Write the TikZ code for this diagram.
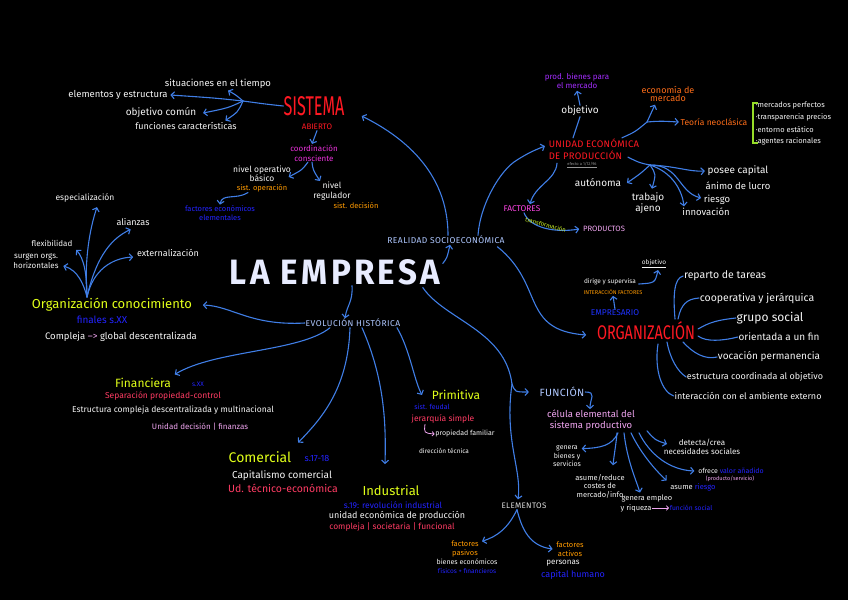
\documentclass[tikz,border=0pt]{standalone}
\usepackage{fontspec}
\setmainfont{Fira Sans}
\usepackage{graphicx}
\usetikzlibrary{arrows.meta}
\definecolor{conn}{RGB}{64,126,230}
\definecolor{twhite}{RGB}{245,245,245}
\definecolor{temp}{RGB}{232,236,255}
\definecolor{tred}{RGB}{255,25,35}
\definecolor{tmag}{RGB}{235,50,220}
\definecolor{tmag2}{RGB}{255,70,230}
\definecolor{tora}{RGB}{255,155,0}
\definecolor{torr}{RGB}{255,110,25}
\definecolor{tblue}{RGB}{35,35,255}
\definecolor{tblue2}{RGB}{30,50,255}
\definecolor{tyel}{RGB}{225,255,25}
\definecolor{tpr}{RGB}{255,60,100}
\definecolor{tlpk}{RGB}{240,165,240}
\definecolor{tlbl}{RGB}{175,200,255}
\definecolor{tpur}{RGB}{165,45,255}
\definecolor{tgrn}{RGB}{150,220,40}
\definecolor{tgrn2}{RGB}{205,245,40}
\definecolor{tgry}{RGB}{150,150,150}
\definecolor{twg}{RGB}{220,220,220}
\newcommand\F[2]{\fontsize{#1}{#2}\selectfont}
\begin{document}
\begin{tikzpicture}[x=1pt,y=-1pt,
  every node/.style={inner sep=0.6pt, align=center, text=twhite},
  arr/.style={draw=conn, line width=1.1pt, line cap=round, -{Straight Barb[length=3.2pt,width=7pt]}},
  ln/.style={draw=conn, line width=1.1pt, line cap=round},
  pk/.style={draw=tlpk, line width=0.8pt, -{Straight Barb[length=2pt,width=4.5pt]}}]
\path[use as bounding box, fill=black] (0,0) rectangle (848,600);

% ---------- SISTEMA ----------
\node[text=tred,inner sep=0pt] (sis) at (314,106) {\resizebox{61pt}{19pt}{SISTEMA}};
\node[text=tred,font=\F{8}{9}] (abi) at (317,127) {ABIERTO};
\node[font=\F{9.5}{11}] (sit) at (218,84) {situaciones en el tiempo};
\node[font=\F{9.5}{11}] (ele) at (118,95) {elementos y estructura};
\node[font=\F{10}{11}] (obj) at (161,113) {objetivo común};
\node[font=\F{9}{11}] (fun) at (186,126) {funciones características};
\coordinate (hs) at (243,101);
\node[text=tmag,font=\F{8}{10}] (coo) at (314,153) {coordinación\\consciente};
\node[font=\F{8.5}{9}] (nop) at (262,174) {nivel operativo\\básico};
\node[text=tora,font=\F{7.5}{9}] (sop) at (262,188) {sist. operación};
\node[font=\F{8.5}{10}] (nre) at (332,191) {nivel\\regulador};
\node[text=tora,font=\F{7.5}{9}] (sde) at (356,206) {sist. decisión};
\node[text=tblue,font=\F{7.5}{9}] (fee) at (220,213) {factores económicos\\elementales};

\draw[ln] (sis.west) .. controls (265,104) .. (hs);
\draw[arr] (hs) .. controls (215,98) .. ([xshift=2pt]ele.east);
\draw[arr] (hs) .. controls (236,95) .. ([xshift=10pt,yshift=-1pt]sit.south);
\draw[arr] (hs) .. controls (228,108) .. ([xshift=6pt]obj.east);
\draw[arr] (hs) .. controls (238,112) .. ([xshift=-12pt,yshift=1pt]fun.north east);
\draw[arr] (abi.south) -- ([xshift=-2pt]coo.north);
\draw[arr] ([xshift=-6pt]coo.south) .. controls (302,170) .. ([xshift=-3pt,yshift=-3pt]nop.east);
\draw[arr] ([xshift=-2pt]coo.south) .. controls (313,170) .. ([xshift=-12pt]nre.north);
\draw[arr] ([xshift=-14pt]sop.south) .. controls (236,200) and (222,193) .. (fee.north);

% ---------- CENTRE ----------
\node[text=temp] (emp) at (335,272) {\resizebox{210pt}{25pt}{\bfseries\addfontfeature{LetterSpace=10}LA EMPRESA}};
\node[text=tlbl,font=\F{8.5}{10}\addfontfeature{LetterSpace=5}] (rea) at (446,240) {REALIDAD SOCIOECONÓMICA};
\node[text=tlbl,font=\F{8.5}{10}\addfontfeature{LetterSpace=6}] (evo) at (353,323) {EVOLUCIÓN HISTÓRICA};
\draw[arr] ([xshift=2pt,yshift=-5pt]emp.north east) .. controls (447,258) .. ([xshift=4pt]rea.south);
\draw[arr] ([xshift=17pt]emp.south) .. controls (353,302) and (347,305) .. ([xshift=-8pt]evo.north);
\draw[arr] ([xshift=2pt]rea.north) .. controls (448,170) and (400,135) .. ([xshift=17pt,yshift=-10pt]sis.east);

% ---------- ORGANIZACION CONOCIMIENTO ----------
\node[text=tyel,font=\F{13}{15}] (orc) at (112,305) {Organización conocimiento};
\node[text=tblue,font=\F{10}{11}] (osx) at (102,320) {finales s.XX};
\node[font=\F{9.5}{11}] (ocg) at (121,337) {Compleja \textcolor{tlpk}{--{}>} global descentralizada};
\node[font=\F{8.5}{10}] (esp) at (85,198) {especialización};
\node[font=\F{9}{10}] (ali) at (133,222) {alianzas};
\node[font=\F{8}{10}] (fle) at (52,243) {flexibilidad};
\node[font=\F{9}{10}] (ext) at (168,253) {externalización};
\node[font=\F{8}{10}] (sur) at (36,261) {surgen orgs.\\horizontales};
\coordinate (ho) at (87,297);
\draw[arr] (ho) .. controls (84,260) and (90,228) .. ([xshift=12pt,yshift=-4pt]esp.south);
\draw[arr] (ho) .. controls (95,262) and (108,240) .. ([xshift=15pt,yshift=-3pt]ali.south west);
\draw[arr] (ho) .. controls (87,275) and (84,258) .. ([xshift=3pt,yshift=-3pt]fle.south east);
\draw[arr] (ho) .. controls (93,270) and (112,258) .. ([xshift=-3pt,yshift=-4pt]ext.west);
\draw[arr] (ho) .. controls (84,285) and (78,270) .. ([xshift=4pt,yshift=-5pt]sur.east);
\draw[arr] (evo.west) .. controls (250,326) and (232,306) .. ([xshift=10pt]orc.east);

% ---------- UNIDAD ECONOMICA ----------
\node[text=tred,font=\F{9.5}{12}\addfontfeature{LetterSpace=3},align=left,anchor=west] (uni) at (548,149) {UNIDAD ECONÓMICA\\DE PRODUCCIÓN};
\node[text=tgry,font=\F{4}{5}] (und) at (582,165) {\underline{efecto a 1/12/96}};
\node[font=\F{10}{11}] (objv) at (580,111) {objetivo};
\node[text=tpur,font=\F{8}{9.5}] (prd) at (577,81) {prod. bienes para\\el mercado};
\draw[ln] ([xshift=25pt]uni.north west) .. controls (576,128) .. (objv.south);
\draw[arr] (objv.north) -- ([yshift=-1pt]prd.south);
\coordinate (hu) at (647,122);
\node[text=torr,font=\F{9}{8.5}] (eco) at (668,94) {economía de\\mercado};
\node[text=torr,font=\F{8.5}{10}] (teo) at (714,122) {Teoría neoclásica};
\draw[ln] ([xshift=-18pt]uni.north east) .. controls (635,132) .. (hu);
\draw[arr] (hu) .. controls (651,113) .. ([xshift=-13pt,yshift=-2pt]eco.south);
\draw[arr] (hu) .. controls (660,121) .. ([xshift=-1pt]teo.west);
\draw[tgrn, line width=1.2pt] (758,103) -- (753,103) -- (753,143) -- (758,143);
\node[font=\F{7.5}{9},anchor=west] (b1) at (755,105) {·mercados perfectos};
\node[font=\F{7.5}{9},anchor=west] (b2) at (755,117) {·transparencia precios};
\node[font=\F{7.5}{9},anchor=west] (b3) at (755,130) {·entorno estático};
\node[font=\F{7.5}{9},anchor=west] (b4) at (755,141) {·agentes racionales};

\coordinate (hp) at (650,165);
\draw[ln] ([xshift=-12pt,yshift=3pt]uni.south east) .. controls (640,163) .. (hp);
\node[font=\F{10}{11}] (aut) at (598,183) {autónoma};
\node[font=\F{10}{11}] (tra) at (648,203) {trabajo\\ajeno};
\node[font=\F{10}{11}] (pos) at (738,171) {posee capital};
\node[font=\F{9.5}{11}] (ani) at (738,186) {ánimo de lucro};
\node[font=\F{9.5}{11}] (rie) at (717,200) {riesgo};
\node[font=\F{9.5}{11}] (inn) at (706,212) {innovación};
\draw[arr] (hp) .. controls (640,174) .. ([xshift=5pt]aut.east);
\draw[arr] (hp) .. controls (656,174) .. ([xshift=4pt,yshift=3pt]tra.north);
\draw[arr] (hp) .. controls (675,166) and (690,172) .. ([xshift=-2pt]pos.west);
\draw[arr] (hp) .. controls (680,165) and (678,192) .. ([xshift=-2pt,yshift=2pt]rie.west);
\draw[arr] (hp) .. controls (672,172) and (682,190) .. ([xshift=-22pt,yshift=1pt]inn.north);

\node[text=tmag2,font=\F{8.3}{10}] (fac) at (522,209) {FACTORES};
\node[text=tlpk,font=\F{7.7}{9}] (pro) at (604,229) {PRODUCTOS};
\draw[arr] ([xshift=9pt,yshift=-3pt]uni.south west) .. controls (556,180) and (535,185) .. ([xshift=8pt,yshift=1pt]fac.north);
\draw[arr] ([xshift=2pt]fac.south) .. controls (530,228) and (555,233) .. ([xshift=-3pt]pro.west) node[pos=0.5,sloped,above=0pt,text=tgrn2,font=\F{6}{7}] (tfm) {transformación};
\draw[arr] ([xshift=32pt]rea.north) .. controls (480,205) and (500,170) .. (517,160) .. controls (528,153) and (535,150) .. ([xshift=-3pt,yshift=3pt]uni.west);

% ---------- ORGANIZACION ----------
\node[text=tred] (org) at (646,331) {\resizebox{98pt}{18pt}{ORGANIZACIÓN}};
\node[text=tblue2,font=\F{8.4}{10}] (emr) at (615,313) {EMPRESARIO};
\node[text=tora,font=\F{5.5}{7}] (inf) at (613,292) {INTERACCIÓN FACTORES};
\node[font=\F{6.5}{8}] (dir) at (610,282) {dirige y supervisa};
\node[font=\F{6.5}{8}] (obo) at (654,264) {\underline{objetivo}};
\draw[arr] (emr.north) -- ([yshift=-0.5pt]inf.south);
\draw[arr] ([xshift=2pt,yshift=-2pt]dir.east) .. controls (655,283) .. ([xshift=4pt,yshift=-1pt]obo.south);
\node[font=\F{10.5}{12}] (rep) at (725,276) {reparto de tareas};
\node[font=\F{10.5}{12}] (coop) at (757,298) {cooperativa y jerárquica};
\node[font=\F{12}{13}] (gru) at (770,318) {grupo social};
\node[font=\F{10}{12}] (ori) at (779,337) {orientada a un fin};
\node[font=\F{10}{12}] (voc) at (769,357) {vocación permanencia};
\node[font=\F{9}{11}] (est) at (755,377) {estructura coordinada al objetivo};
\node[font=\F{9}{11}] (int) at (748,396) {interacción con el ambiente externo};
\draw[ln] ([shift={(29,-12)}]org.center) .. controls (673,295) and (674,278) .. (rep.west);
\draw[ln] ([shift={(32,-12)}]org.center) .. controls (681,305) and (686,299) .. (coop.west);
\draw[ln] ([shift={(52,-2)}]org.center) .. controls (710,322) and (718,320) .. (gru.west);
\draw[ln] ([shift={(52,5)}]org.center) .. controls (706,342) and (722,341) .. (ori.west);
\draw[ln] ([shift={(37,11)}]org.center) .. controls (693,353) and (705,360) .. (voc.west);
\draw[ln] ([shift={(21,11)}]org.center) .. controls (670,358) and (677,371) .. (est.west);
\draw[ln] ([shift={(12,13)}]org.center) .. controls (654,370) and (662,392) .. (int.west);
\draw[arr] ([xshift=-8pt,yshift=-2pt]rea.south east) .. controls (545,285) and (520,330) .. ([xshift=-10pt,yshift=-4pt]org.west);

% ---------- FUNCION ----------
\coordinate (hf) at (512,384);
\draw[ln] ([xshift=-18pt,yshift=-2pt]emp.south east) .. controls (445,320) and (505,330) .. (hf);
\node[text=tlbl,font=\F{10.5}{12}\addfontfeature{LetterSpace=3}] (fn) at (562,392) {FUNCIÓN};
\draw[arr] (hf) .. controls (515,392) .. ([xshift=-10pt]fn.west);
\node[text=tlpk,font=\F{9.5}{10.5}] (cel) at (591,420) {célula elemental del\\sistema productivo};
\draw[arr] (fn.east) .. controls (597,392) and (590,398) .. ([xshift=-1pt]cel.north);
\node[font=\F{7}{8.5}] (gen) at (567,456) {genera\\bienes y\\servicios};
\node[font=\F{7.5}{8.5}] (asu) at (600,486) {asume/reduce\\costes de\\mercado/info};
\node[font=\F{7.5}{9}] (gem) at (647,498) {genera empleo};
\node[font=\F{7.5}{9}] (yri) at (636,508) {y riqueza};
\node[text=tblue,font=\F{6.7}{8}] (fso) at (691,508) {función social};
\node[font=\F{7.5}{9}] (asr) at (693,487) {asume \textcolor{tblue}{riesgo}};
\node[font=\F{7}{8}] (ofr) at (731,471) {ofrece \textcolor{tblue}{valor añadido}};
\node[text=tlpk,font=\F{5.5}{7}] (pse) at (730,479) {(producto/servicio)};
\node[font=\F{8}{9.5}] (det) at (702,447) {detecta/crea\\necesidades sociales};
\draw[arr] ([xshift=27pt,yshift=-2pt]cel.south) .. controls (612,446) and (600,448) .. ([yshift=-4pt]gen.north east);
\draw[arr] ([xshift=26pt,yshift=-2pt]cel.south) .. controls (616,445) and (614,455) .. ([xshift=13pt,yshift=8pt]asu.north);
\draw[arr] ([xshift=33pt,yshift=-2pt]cel.south) .. controls (627,460) and (636,480) .. ([xshift=-7pt,yshift=1pt]gem.north);
\draw[arr] ([xshift=40pt,yshift=-2pt]cel.south) .. controls (640,452) and (655,470) .. ([xshift=-3pt,yshift=2pt]asr.north west);
\draw[arr] ([xshift=48pt,yshift=-2pt]cel.south) .. controls (650,455) and (670,470) .. ([xshift=-3pt]ofr.west);
\draw[arr] ([xshift=56pt]cel.south) .. controls (655,440) .. ([xshift=4pt,yshift=3pt]det.west);
\draw[pk] (yri.east) -- (fso.west);

% ---------- ELEMENTOS ----------
\node[text=twg,font=\F{8}{9}\addfontfeature{LetterSpace=4}] (elm) at (524,506) {ELEMENTOS};
\draw[arr] (hf) .. controls (504,440) and (522,470) .. ([xshift=-6pt,yshift=3pt]elm.north);
\node[text=tora,font=\F{7.5}{8.5}] (fpa) at (465,549) {factores\\pasivos};
\node[font=\F{7}{8}] (bec) at (467,562) {bienes económicos};
\node[text=tblue,font=\F{6.5}{8}] (ffi) at (467,571) {físicos + financieros};
\node[text=tora,font=\F{7.5}{8.5}] (fac2) at (570,549) {factores\\activos};
\node[font=\F{8}{9}] (per) at (563,563) {personas};
\node[text=tblue,font=\F{9}{10}] (chu) at (573,575) {capital humano};
\draw[arr] ([xshift=-7pt]elm.south) .. controls (508,528) and (498,536) .. ([xshift=17pt,yshift=-1pt]fpa.north);
\draw[arr] ([xshift=-7pt]elm.south) .. controls (522,530) and (530,546) .. ([xshift=-3pt]fac2.west);

% ---------- EVOLUCION ----------
\node[text=tyel,font=\F{12}{14}] (fin) at (143,383) {Financiera};
\node[text=tblue,font=\F{6.5}{8}] (fsx) at (198,384) {s.XX};
\node[text=tpr,font=\F{8.5}{10}] (sep) at (163,396) {Separación propiedad-control};
\node[font=\F{8.5}{10}] (ecd) at (173,410) {Estructura compleja descentralizada y multinacional};
\node[text=tlpk,font=\F{8}{10}] (udf) at (200,427) {Unidad decisión | finanzas};
\draw[arr] ([xshift=-23pt]evo.south) .. controls (300,352) and (215,350) .. ([xshift=3pt,yshift=3pt]fin.north east);

\node[text=tyel,font=\F{14}{16}] (com) at (260,457) {Comercial};
\node[text=tblue,font=\F{9}{10}] (csx) at (317,458) {s.17-18};
\node[font=\F{10}{11}] (cco) at (282,476) {Capitalismo comercial};
\node[text=tpr,font=\F{10.5}{12}] (ute) at (283,488) {Ud. técnico-económica};
\draw[arr] ([xshift=-3pt]evo.south) .. controls (348,390) and (320,420) .. ([xshift=6pt,yshift=8pt]com.north east);

\node[text=tyel,font=\F{13}{15}] (ind) at (391,490) {Industrial};
\node[text=tblue,font=\F{8.5}{10}] (isx) at (393,505) {s.19: revolución industrial};
\node[font=\F{9}{10}] (iud) at (397,516) {unidad económica de producción};
\node[text=tpr,font=\F{8.5}{10}] (icf) at (392,527) {compleja | societaria | funcional};
\draw[arr] ([xshift=9pt]evo.south) .. controls (385,380) and (386,425) .. ([xshift=-6pt,yshift=20pt]ind.north);

\node[text=tyel,font=\F{12}{14}] (pri) at (456,395) {Primitiva};
\node[text=tblue,font=\F{7}{8}] (psf) at (432,407) {sist. feudal};
\node[text=tpr,font=\F{8.5}{10}] (pjs) at (443,419) {jerarquía simple};
\node[font=\F{7}{8}] (ppf) at (465,434) {propiedad familiar};
\node[font=\F{6.5}{8}] (pdt) at (444,451) {dirección técnica};
\draw[pk] ([xshift=-18pt]pjs.south) .. controls (424,433) .. (ppf.west);
\draw[arr] ([xshift=44pt]evo.south) .. controls (410,350) and (414,380) .. ([xshift=-9pt]pri.west);
\end{tikzpicture}
\end{document}
